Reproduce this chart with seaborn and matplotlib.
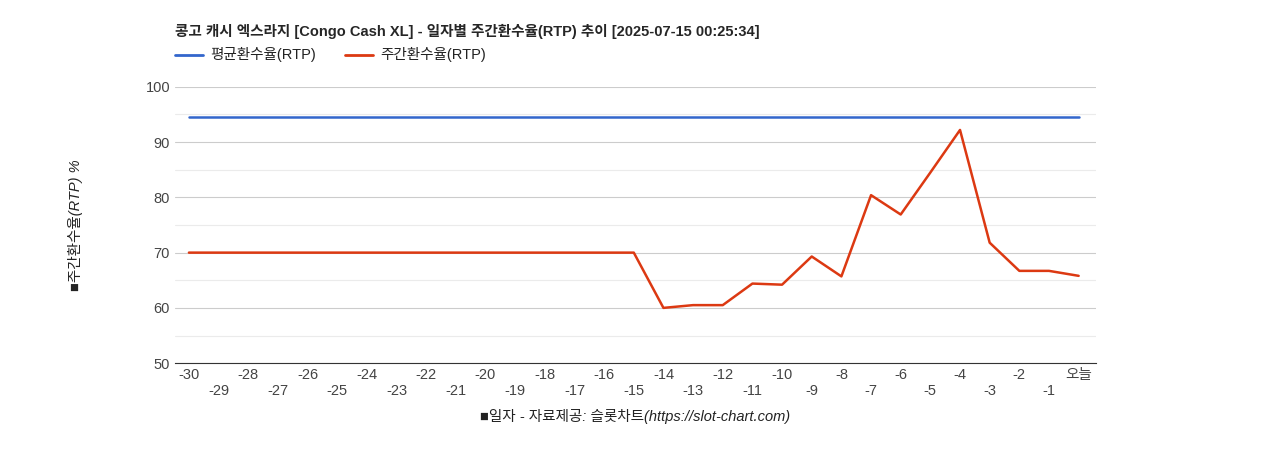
import matplotlib
matplotlib.use("Agg")
import matplotlib.pyplot as plt
import seaborn as sns
import pandas as pd

sns.set_style("white")
plt.rcParams["font.family"] = ["Liberation Sans", "Noto Sans CJK JP", "Noto Sans CJK KR", "Noto Sans CJK SC"]

# data
days = list(range(-30, 1))
avg_rtp = [94.5] * 31
weekly_rtp = [70.0] * 16 + [60.0, 60.5, 60.5, 64.4, 64.2, 69.3, 65.7, 80.4, 76.9, 84.5, 92.2,
                            71.8, 66.7, 66.7, 65.8]
tick_labels = [str(d) for d in days[:-1]] + ["오늘"]

df = pd.DataFrame({"day": days, "평균환수율(RTP)": avg_rtp, "주간환수율(RTP)": weekly_rtp})
long = df.melt(id_vars="day", var_name="series", value_name="rtp")

fig = plt.figure(figsize=(12.68, 4.5), dpi=100)
ax = fig.add_axes([0.138, 0.193, 0.726, 0.614])
sns.lineplot(data=long, x="day", y="rtp", hue="series", palette=["#3366cc", "#dc3912"],
             linewidth=1.8, ax=ax, legend=False)

ax.set_xlim(-30.47, 0.57)
ax.set_ylim(50, 100)
ax.set_yticks(range(50, 101, 10))
ax.set_yticks(range(55, 100, 10), minor=True)
ax.grid(axis="y", which="major", color="#cccccc", lw=0.8)
ax.grid(axis="y", which="minor", color="#ebebeb", lw=0.8)
ax.set_xticks(days)
ax.set_xticklabels([lab if i % 2 == 0 else "\n" + lab for i, lab in enumerate(tick_labels)])
ax.tick_params(length=0, labelsize=10.5, colors="#444444")
for s in ["top", "right", "left"]:
    ax.spines[s].set_visible(False)
ax.spines["bottom"].set_color("#333333")
ax.set_axisbelow(True)

ax.set_xlabel("■일자 - 자료제공: 슬롯차트(https://slot-chart.com)", style="italic", fontsize=10.5,
              color="#222222", labelpad=8)
ax.set_ylabel("■주간환수율(RTP) %", style="italic", fontsize=10.5, color="#222222", labelpad=45)

fig.text(0.138, 0.93, "콩고 캐시 엑스라지 [Congo Cash XL] - 일자별 주간환수율(RTP) 추이 [2025-07-15 00:25:34]",
         fontsize=10.5, fontweight="bold", va="center")
fig.lines.append(plt.Line2D([0.138, 0.16], [0.878, 0.878], color="#3366cc", lw=2, transform=fig.transFigure))
fig.text(0.166, 0.878, "평균환수율(RTP)", fontsize=10.5, va="center", color="#222222")
fig.lines.append(plt.Line2D([0.272, 0.294], [0.878, 0.878], color="#dc3912", lw=2, transform=fig.transFigure))
fig.text(0.300, 0.878, "주간환수율(RTP)", fontsize=10.5, va="center", color="#222222")

fig.savefig("out.png", dpi=100)
